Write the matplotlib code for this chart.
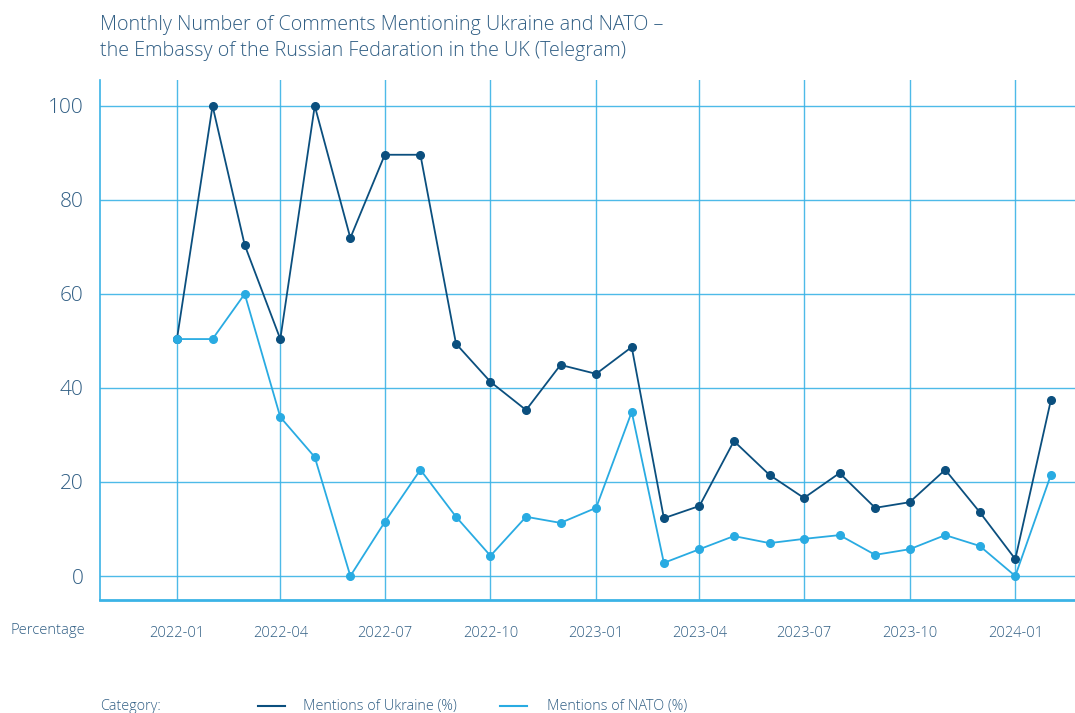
import numpy as np
import pandas as pd
import matplotlib
matplotlib.use('Agg')
import matplotlib.pyplot as plt
import matplotlib.dates as mdates

# monthly values
months = pd.date_range('2022-01-01', '2024-02-01', freq='MS')
ukraine = [50.4, 100, 70.4, 50.4, 100, 71.9, 89.6, 89.6, 49.4, 41.3, 35.3, 44.9,
           43.0, 48.7, 12.3, 14.9, 28.7, 21.5, 16.6, 21.9, 14.5, 15.7, 22.6, 13.6,
           3.6, 37.4]
nato = [50.4, 50.4, 60.0, 33.8, 25.3, 0.0, 11.5, 22.6, 12.6, 4.3, 12.6, 11.3,
        14.5, 34.9, 2.8, 5.7, 8.5, 7.0, 7.9, 8.7, 4.5, 5.7, 8.7, 6.4,
        0.0, 21.5]
yticks = [0, 20, 40, 60, 80, 100]
title = ('Monthly Number of Comments Mentioning Ukraine and NATO \u2013\n'
         'the Embassy of the Russian Fedaration in the UK (Telegram)')

dark = '#0b4f7e'
light = '#29abe2'
grid_c = '#3bb3e6'
text_c = '#305e84'

plt.rcParams['font.family'] = ['Open Sans', 'DejaVu Sans']

fig = plt.figure(figsize=(10.75, 7.13), dpi=100)
ax = fig.add_axes([100 / 1075, 113 / 713, 975 / 1075, 520 / 713])

ax.plot(months, ukraine, color=dark, lw=1.3, marker='o', ms=5.5, zorder=3)
ax.plot(months, nato, color=light, lw=1.3, marker='o', ms=5.5, zorder=3)

ax.set_ylim(-5.1, 105.5)
ax.set_xlim(pd.Timestamp('2021-10-26'), pd.Timestamp('2024-02-22'))
ax.set_yticks(yticks)
ax.xaxis.set_major_locator(mdates.MonthLocator(bymonth=[1, 4, 7, 10]))
ax.xaxis.set_major_formatter(mdates.DateFormatter('%Y-%m'))

ax.grid(True, color=grid_c, lw=1.0, alpha=0.9)
ax.set_axisbelow(True)
for s in ['top', 'right']:
    ax.spines[s].set_visible(False)
ax.spines['left'].set_color(grid_c)
ax.spines['left'].set_linewidth(1.2)
ax.spines['bottom'].set_color(grid_c)
ax.spines['bottom'].set_linewidth(2.0)

ax.tick_params(axis='y', length=0, pad=12, labelsize=15, labelcolor=text_c)
ax.tick_params(axis='x', length=0, pad=19, labelsize=10.5, labelcolor=text_c)
for lab in ax.get_yticklabels() + ax.get_xticklabels():
    lab.set_fontweight('light')

fig.text(100 / 1075, 1 - 38 / 713, title, fontsize=14.2, color=text_c,
         fontweight='light', va='center', linespacing=1.35)
fig.text(10 / 1075, 1 - 630 / 713, 'Percentage', fontsize=10.6, color=text_c,
         fontweight='light', va='center')

# bottom legend
ly = 1 - 706 / 713
fig.text(100 / 1075, ly, 'Category:', fontsize=10.4, color=text_c,
         fontweight='light', va='center')
fig.add_artist(plt.Line2D([258 / 1075, 285 / 1075], [ly, ly], color=dark, lw=1.5))
fig.text(303 / 1075, ly, 'Mentions of Ukraine (%)', fontsize=10.4, color=text_c,
         fontweight='light', va='center')
fig.add_artist(plt.Line2D([500 / 1075, 527 / 1075], [ly, ly], color=light, lw=1.5))
fig.text(547 / 1075, ly, 'Mentions of NATO (%)', fontsize=10.4, color=text_c,
         fontweight='light', va='center')

fig.savefig('out.png', dpi=100)
